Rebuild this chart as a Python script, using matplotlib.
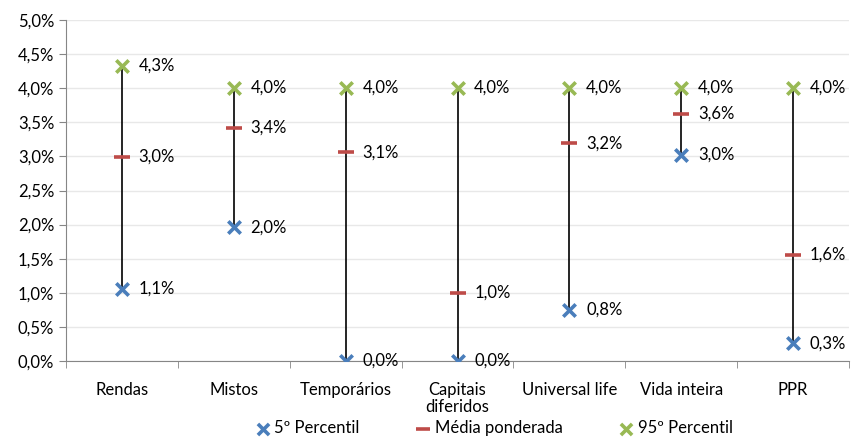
import numpy as np
import matplotlib.pyplot as plt

plt.rcParams['font.family'] = ['Lato', 'DejaVu Sans']

# dados
categorias = ['Rendas', 'Mistos', 'Temporários', 'Capitais\ndiferidos',
              'Universal life', 'Vida inteira', 'PPR']
p5 = [1.06, 1.96, 0.0, 0.0, 0.75, 3.02, 0.26]
media = [2.99, 3.42, 3.06, 1.00, 3.19, 3.62, 1.56]
p95 = [4.33, 4.01, 4.01, 4.01, 4.01, 4.01, 4.01]
lab_p5 = ['1,1%', '2,0%', '0,0%', '0,0%', '0,8%', '3,0%', '0,3%']
lab_media = ['3,0%', '3,4%', '3,1%', '1,0%', '3,2%', '3,6%', '1,6%']
lab_p95 = ['4,3%', '4,0%', '4,0%', '4,0%', '4,0%', '4,0%', '4,0%']

fs = 12

fig = plt.figure(figsize=(8.55, 4.38), dpi=100)
ax = fig.add_axes([66 / 855, 1 - 361 / 438, 783 / 855, 341 / 438])

x = np.arange(len(categorias))
ax.vlines(x, p5, p95, color='black', lw=1.2, zorder=2)
ax.scatter(x, p5, marker='x', s=80, color='#4a7ebb', linewidths=2.6, zorder=3, label='5º Percentil')
ax.scatter(x, media, marker='_', s=130, color='#be4b48', linewidths=2.6, zorder=3, label='Média ponderada')
ax.scatter(x, p95, marker='x', s=80, color='#98b954', linewidths=2.6, zorder=3, label='95º Percentil')

for i in range(len(x)):
    for v, t in [(p5[i], lab_p5[i]), (media[i], lab_media[i]), (p95[i], lab_p95[i])]:
        ax.annotate(t, (x[i], v), xytext=(12, 0), textcoords='offset points',
                    va='center', ha='left', fontsize=fs, color='black')

ax.set_xlim(-0.5, len(x) - 0.5)
ax.set_ylim(0, 5)
ax.set_yticks(np.arange(0, 5.01, 0.5))
ax.set_yticklabels([f'{v:.1f}%'.replace('.', ',') for v in np.arange(0, 5.01, 0.5)])
ax.set_xticks(x)
ax.set_xticklabels(categorias, linespacing=1.1)
ax.set_xticks(np.arange(-0.5, len(x), 1), minor=True)
ax.tick_params(axis='x', which='major', length=0, pad=15, labelsize=fs)
ax.tick_params(axis='x', which='minor', length=5, color='#868686')
ax.tick_params(axis='y', length=5, color='#868686', labelsize=fs)
ax.grid(axis='y', color='#e8e8e8', lw=1)
ax.set_axisbelow(True)
for s in ['top', 'right']:
    ax.spines[s].set_visible(False)
for s in ['left', 'bottom']:
    ax.spines[s].set_color('#868686')

ax.legend(loc='lower center', bbox_to_anchor=(0.545, -77 / 341), ncol=3, frameon=False,
          fontsize=fs, handletextpad=0.1, handlelength=1.2, columnspacing=3.2,
          markerscale=0.9, borderaxespad=0, borderpad=0.1)

plt.savefig('out.png', dpi=100)
